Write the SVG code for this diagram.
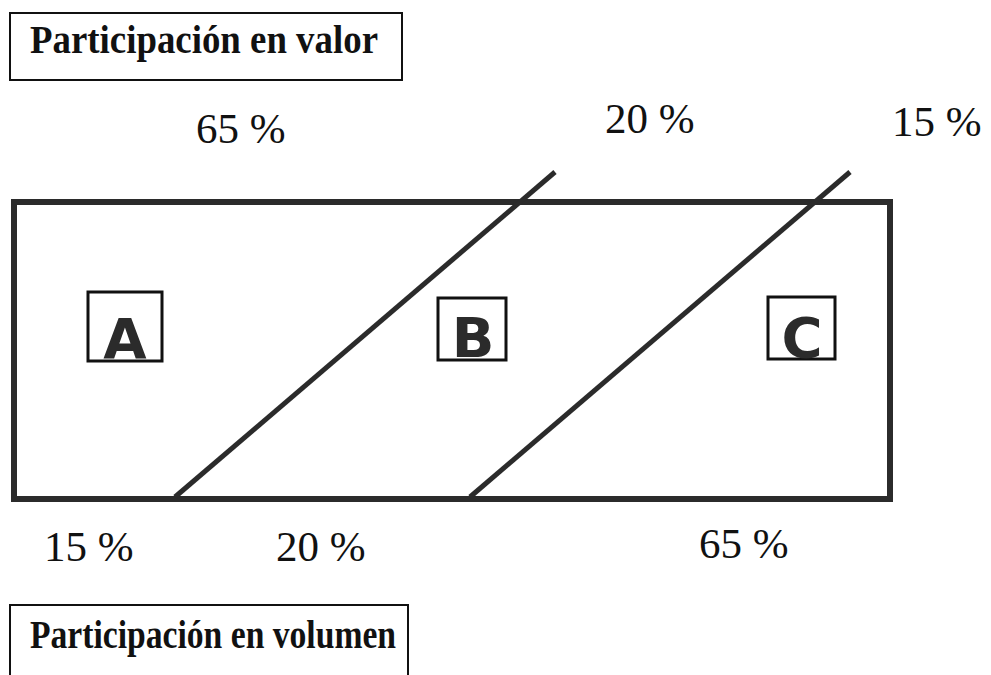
<svg xmlns="http://www.w3.org/2000/svg" width="991" height="675" viewBox="0 0 991 675">
<style>
.title{font-family:"Liberation Serif","Times New Roman",serif;font-weight:bold;font-size:40px;fill:#111}
.pct{font-family:"Liberation Serif","Times New Roman",serif;font-size:43px;fill:#111}
.frame{fill:none;stroke:#111;stroke-width:2}
.main{fill:none;stroke:#2b2b2b;stroke-width:6}
.diag{stroke:#2b2b2b;stroke-width:5;stroke-linecap:butt}
.lbox{fill:none;stroke:#111;stroke-width:3}
.letter{font-family:"DejaVu Sans",sans-serif;font-weight:bold;font-size:56px;fill:#2b2b2b;text-anchor:middle}
</style>
<rect width="991" height="675" fill="#fff"/>
<g id="title-valor">
<rect class="frame" x="10" y="13" width="392" height="67"/>
<text class="title" x="30" y="53" textLength="348" lengthAdjust="spacingAndGlyphs">Participación en valor</text>
</g>
<g id="title-volumen">
<path class="frame" d="M10,675 V605 H408 V675"/>
<text class="title" x="30" y="648" textLength="366" lengthAdjust="spacingAndGlyphs">Participación en volumen</text>
</g>
<g id="main-box">
<rect class="main" x="14" y="202" width="876" height="297"/>
</g>
<g id="connectors">
<line class="diag" x1="175" y1="497" x2="555" y2="172"/>
<line class="diag" x1="470" y1="497" x2="850" y2="172"/>
</g>
<g id="node-A">
<rect class="lbox" x="88" y="292" width="74" height="69"/>
<text class="letter" x="125" y="358">A</text>
</g>
<g id="node-B">
<rect class="lbox" x="438" y="298" width="68" height="62"/>
<text class="letter" x="473" y="357">B</text>
</g>
<g id="node-C">
<rect class="lbox" x="768" y="297" width="67" height="62"/>
<text class="letter" x="802" y="357">C</text>
</g>
<g id="labels-top">
<text class="pct" x="196" y="143">65 %</text>
<text class="pct" x="605" y="133">20 %</text>
<text class="pct" x="892" y="136">15 %</text>
</g>
<g id="labels-bottom">
<text class="pct" x="44" y="561">15 %</text>
<text class="pct" x="276" y="561">20 %</text>
<text class="pct" x="699" y="558">65 %</text>
</g>
</svg>
